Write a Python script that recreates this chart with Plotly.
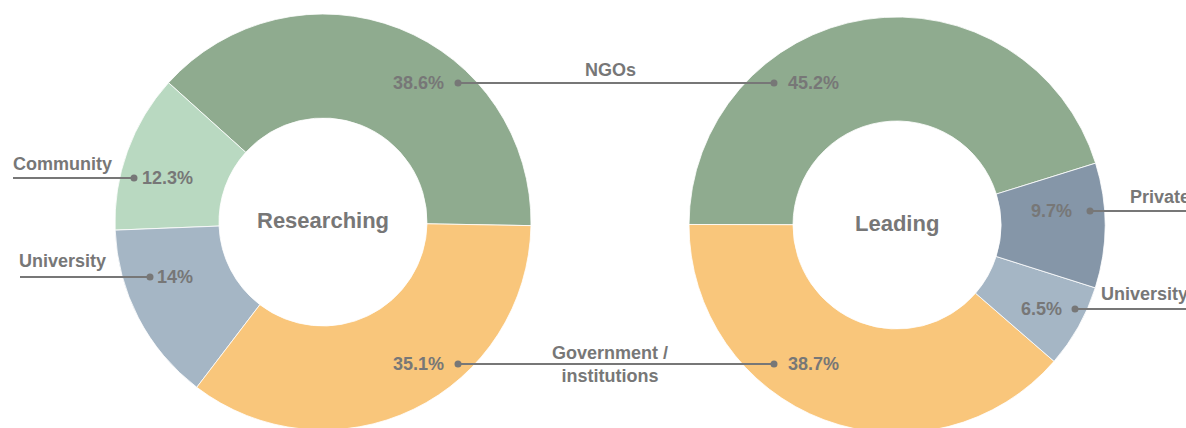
import plotly.graph_objects as go

W, H = 1186, 436
OFF = 0

# ---- data ----
res_labels = ["NGOs", "Community", "University", "Government / institutions"]
res_values = [38.6, 12.3, 14.0, 35.1]
res_colors = ["#8fab8f", "#b9d9c1", "#a5b6c5", "#f9c67b"]

lead_labels = ["NGOs", "Government / institutions", "University", "Private"]
lead_values = [45.2, 38.7, 6.5, 9.7]
lead_colors = ["#8fab8f", "#f9c67b", "#a5b6c5", "#8596a8"]

GRAY = "#777777"
FONT = "Liberation Sans, Arial, sans-serif"


def px(x):
    return (x - OFF) / W


def py(y):
    return 1 - (y - OFF) / H


def pct(v):
    return ("%g" % v) + "%"


def rot(start_cw, values):
    # plotly: with counterclockwise direction, first slice occupies [rotation, rotation+v] clockwise
    return start_cw - 360.0 * values[0] / sum(values)


fig = go.Figure()
fig.add_trace(go.Pie(
    labels=res_labels, values=res_values, hole=0.5, sort=False,
    direction="counterclockwise", rotation=rot(91, res_values),
    marker=dict(colors=res_colors, line=dict(color="white", width=0.8)),
    textinfo="none", hoverinfo="skip", showlegend=False,
    domain=dict(x=[px(115), px(531)], y=[py(430), py(14)]),
))
fig.add_trace(go.Pie(
    labels=lead_labels, values=lead_values, hole=0.5, sort=False,
    direction="counterclockwise", rotation=rot(72.7, lead_values),
    marker=dict(colors=lead_colors, line=dict(color="white", width=0.8)),
    textinfo="none", hoverinfo="skip", showlegend=False,
    domain=dict(x=[px(689), px(1105)], y=[py(433), py(17)]),
))

# leader lines: (x0, x1, y, dot_x)
leaders = [
    (458, 774, 83, [458, 774]),
    (458, 774, 364, [458, 774]),
    (13, 134, 178, [134]),
    (20, 150, 277, [150]),
    (1090, 1230, 211, [1090]),
    (1075, 1230, 309, [1075]),
]
shapes = []
for x0, x1, y, dots in leaders:
    shapes.append(dict(type="line", xref="paper", yref="paper",
                       x0=px(x0), x1=px(x1), y0=py(y), y1=py(y),
                       line=dict(color=GRAY, width=2)))
    for d in dots:
        r = 3.5
        shapes.append(dict(type="circle", xref="paper", yref="paper",
                           x0=px(d - r), x1=px(d + r), y0=py(y + r), y1=py(y - r),
                           fillcolor=GRAY, line=dict(width=0)))

annotations = []


def ann(text, x, y, xanchor, size=18):
    annotations.append(dict(text=text, x=px(x), y=py(y), xref="paper", yref="paper",
                            xanchor=xanchor, yanchor="middle", showarrow=False,
                            font=dict(family=FONT, size=size, color=GRAY)))


# percentages
ann("<b>%s</b>" % pct(res_values[0]), 446, 83, "right")
ann("<b>%s</b>" % pct(res_values[3]), 446, 364, "right")
ann("<b>%s</b>" % pct(res_values[1]), 140, 178, "left")
ann("<b>%s</b>" % pct(res_values[2]), 155, 277, "left")
ann("<b>%s</b>" % pct(lead_values[0]), 786, 83, "left")
ann("<b>%s</b>" % pct(lead_values[1]), 786, 364, "left")
ann("<b>%s</b>" % pct(lead_values[3]), 1074, 211, "right")
ann("<b>%s</b>" % pct(lead_values[2]), 1064, 309, "right")

# category names
ann("<b>NGOs</b>", 610, 70, "center")
ann("<b>Government /</b><br><b>institutions</b>", 610, 364.5, "center")
ann("<b>Community</b>", 11, 164, "left")
ann("<b>University</b>", 17, 261, "left")
ann("<b>Private</b>", 1128, 197, "left")
ann("<b>University</b>", 1099, 294, "left")

# center titles
ann("<b>Researching</b>", 323, 220, "center", 22)
ann("<b>Leading</b>", 897, 223, "center", 22)

fig.update_layout(
    width=W, height=H, margin=dict(l=0, r=0, t=0, b=0),
    paper_bgcolor="white", plot_bgcolor="white",
    shapes=shapes, annotations=annotations,
)
fig.write_html("out.html", config={"displayModeBar": False},
               post_script="document.body.style.margin='0';")
